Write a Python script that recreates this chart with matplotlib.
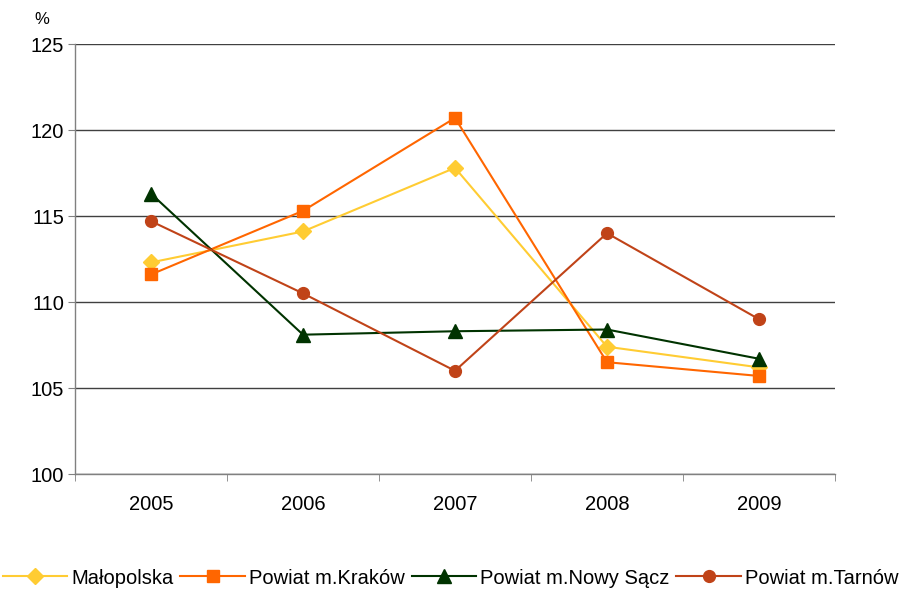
import matplotlib.pyplot as plt
import numpy as np

plt.rcParams['font.family'] = ['Liberation Sans', 'DejaVu Sans']

years = ['2005', '2006', '2007', '2008', '2009']
malopolska = [112.3, 114.1, 117.8, 107.4, 106.2]
krakow = [111.6, 115.3, 120.7, 106.5, 105.7]
nowy_sacz = [116.3, 108.1, 108.3, 108.4, 106.7]
tarnow = [114.7, 110.5, 106.0, 114.0, 109.0]

x = np.arange(len(years))

fig = plt.figure(figsize=(9.01, 5.92), dpi=100)
ax = fig.add_axes([75 / 901, 1 - 474 / 592, 760 / 901, 430 / 592])

ax.plot(x, malopolska, marker='D', markersize=8, color='#FFCC33', lw=1.5, label='Małopolska')
ax.plot(x, krakow, marker='s', markersize=8.5, color='#FF6600', lw=1.5, label='Powiat m.Kraków')
ax.plot(x, nowy_sacz, marker='^', markersize=10, color='#003300', lw=1.5, label='Powiat m.Nowy Sącz')
ax.plot(x, tarnow, marker='o', markersize=8.5, color='#C04318', lw=1.5, label='Powiat m.Tarnów')

ax.set_xlim(-0.5, len(years) - 0.5)
ax.set_ylim(100, 125)
ax.set_yticks(range(100, 126, 5))
ax.set_xticks(x)
ax.set_xticklabels(years)
ax.set_xticks(np.arange(-0.5, len(years), 1), minor=True)
ax.tick_params(axis='x', which='major', length=0, pad=15, labelsize=14.5)
ax.tick_params(axis='x', which='minor', length=5, color='#808080')
ax.tick_params(axis='y', length=5, color='#808080', labelsize=14.5, pad=3)
ax.yaxis.grid(True, color='#404040', lw=1)
ax.set_axisbelow(True)

for s in ['top', 'right']:
    ax.spines[s].set_visible(False)
for s in ['left', 'bottom']:
    ax.spines[s].set_color('#808080')
    ax.spines[s].set_linewidth(1)

fig.text(42 / 901, 1 - 19 / 592, '%', fontsize=12, ha='center', va='center')

fig.legend(loc='center', bbox_to_anchor=(0.5, 1 - 578 / 592), ncol=4, frameon=False,
           fontsize=14.5, handlelength=3.2, columnspacing=0.35, handletextpad=0.2)

fig.savefig('out.png', dpi=100)
